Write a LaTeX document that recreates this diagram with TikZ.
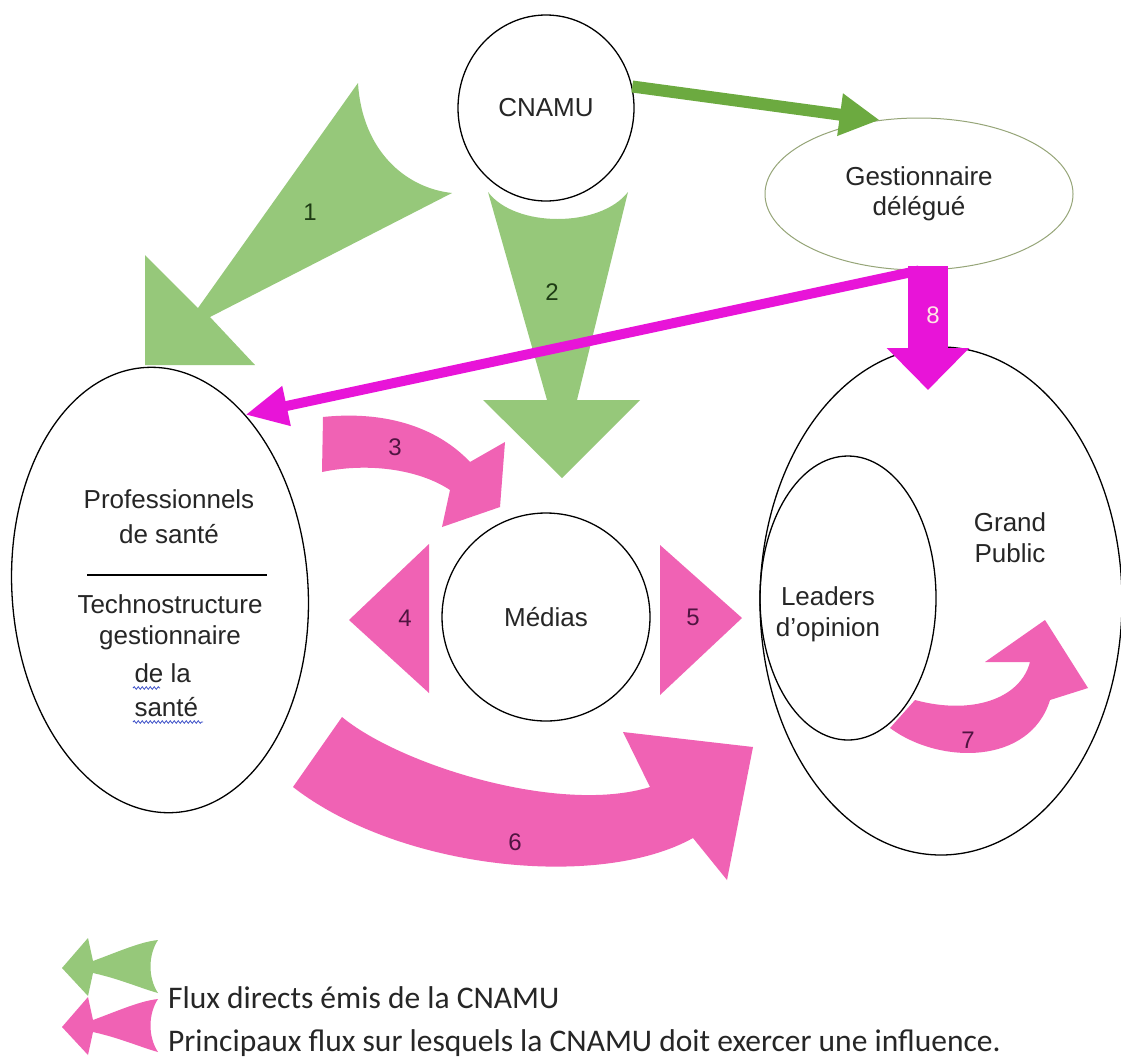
\documentclass[tikz,border=0pt]{standalone}
\usepackage{fontspec}
\setmainfont{Liberation Sans}
\newfontfamily\legendfont{Carlito}
\usetikzlibrary{shapes.geometric,arrows.meta,decorations.pathmorphing}
\definecolor{lgreen}{RGB}{150,200,122}
\definecolor{dgreen}{RGB}{108,170,64}
\definecolor{gestc}{RGB}{150,165,120}
\definecolor{mag}{RGB}{232,20,216}
\definecolor{pinkA}{RGB}{240,98,180}
\definecolor{numg}{RGB}{30,60,20}
\definecolor{nump}{RGB}{80,20,65}
\definecolor{spell}{RGB}{60,80,200}
\begin{document}
\begin{tikzpicture}[x=1pt,y=-1pt,
  ent/.style={draw=black, line width=1.3pt, ellipse, inner sep=0pt},
  lbl/.style={font=\fontsize{26}{31}\selectfont, text=black!85, align=center},
  num/.style={font=\fontsize{24}{28}\selectfont},
  legtxt/.style={font=\legendfont\fontsize{31.5}{36}\selectfont, text=black!85, anchor=west, inner sep=0pt}]
\fill[white] (0,0) rectangle (1121,1058);
\useasboundingbox (0,0) rectangle (1121,1058);

% entities
\node[ent, minimum width=176pt, minimum height=186pt, lbl] (cnamu) at (546,108) {CNAMU};
\node[ent, draw=gestc, line width=1pt, minimum width=308pt, minimum height=152pt, lbl, font=\fontsize{26}{30}\selectfont] (gest) at (919,194) {Gestionnaire\\délégué};
\node[ent, minimum width=296pt, minimum height=446pt, rotate=4] (pro) at (160,590) {};
\node[ent, circle, minimum size=208pt, lbl] (medias) at (546,617) {Médias};
\node[ent, minimum width=362pt, minimum height=508pt] (big) at (941,601) {};
\node[ent, minimum width=176pt, minimum height=284pt] (lead) at (848,598) {};

% texts
\node[lbl, font=\fontsize{26}{35}\selectfont] (protxt) at (169,517) {Professionnels\\de santé};
\draw[line width=1.3pt] (87,575) -- (267,575);
\node[lbl] (tech) at (170,622) {Technostructure\\gestionnaire};
\node[lbl, align=left, anchor=west, font=\fontsize{26}{34}\selectfont] (dela) at (131,690) {de la\\santé};
\draw[spell, line width=0.8pt, decorate, decoration={snake, amplitude=1.3pt, segment length=4pt}] (133,688) -- (160,688);
\draw[spell, line width=0.8pt, decorate, decoration={snake, amplitude=1.3pt, segment length=4pt}] (133,722) -- (203,722);
\node[lbl] (leadtxt) at (828,614) {Leaders\\d’opinion};
\node[lbl] (gptxt) at (1010,538) {Grand\\Public};

% arrow 1
\fill[lgreen] (358,83) .. controls (362,150) and (405,188) .. (452,193) -- (210,317) -- (255,365) -- (145,365) -- (145,255) -- (198,308) -- cycle;
\node[num, text=numg] (n1) at (310,212) {1};
% arrow 2
\fill[lgreen] (488,192) .. controls (515,228) and (600,228) .. (628,192) -- (577,400) -- (640,400) -- (562,478) -- (483,400) -- (547,400) -- cycle;
\node[num, text=numg] (n2) at (552,292) {2};
% CNAMU -> Gestionnaire
\draw[dgreen, line width=12pt, -{Triangle[length=40pt,width=40pt]}] (cnamu.14) -- (gest.118);

% magenta line to Professionnels
\draw[mag, line width=10pt, -{Triangle[length=42pt,width=38pt]}] (gest.south) -- (pro.60);
% arrow 8
\coordinate (a8s) at (928,266);
\coordinate (a8e) at (928,390);
\draw[mag, line width=40pt, -{Triangle[length=42pt,width=80pt]}] (a8s) -- (a8e);
\node[num, text=pink!40] (n8) at (933,315) {8};

% arrow 3
\fill[pinkA] (323,417) .. controls (390,410) and (440,430) .. (470,462) -- (505,442) -- (500,507) -- (442,527) -- (450,490) .. controls (420,470) and (370,462) .. (322,472) -- cycle;
\node[num, text=nump] (n3) at (395,447) {3};
% arrow 4
\fill[pinkA] (429,544) -- (429,693) -- (349,620) -- cycle;
\node[num, text=nump] (n4) at (405,618) {4};
% arrow 5
\fill[pinkA] (660,545) -- (660,695) -- (742,618) -- cycle;
\node[num, text=nump] (n5) at (693,617) {5};
% arrow 6
\fill[pinkA] (342,717) .. controls (400,765) and (560,815) .. (650,787) -- (623,732) -- (753,747) -- (727,880) -- (693,838) .. controls (600,890) and (400,870) .. (293,787) -- cycle;
\node[num, text=nump] (n6) at (515,842) {6};
% arrow 7
\fill[pinkA] (890,728) .. controls (940,765) and (1030,765) .. (1050,700) -- (1088,688) -- (1045,620) -- (985,662) -- (1030,662) .. controls (1020,700) and (970,715) .. (915,700) -- cycle;
\node[num, text=nump] (n7) at (968,740) {7};

% legend
\fill[lgreen] (62,968) -- (88,938) -- (93,961) .. controls (120,951) and (140,942) .. (158,940) .. controls (148,955) and (148,978) .. (158,993) .. controls (140,988) and (120,979) .. (93,973) -- (88,996) -- cycle;
\node[legtxt] (leg1) at (168,998) {Flux directs émis de la CNAMU};
\fill[pinkA] (62,1027) -- (88,997) -- (93,1020) .. controls (120,1010) and (140,1001) .. (158,999) .. controls (148,1014) and (148,1037) .. (158,1052) .. controls (140,1047) and (120,1038) .. (93,1032) -- (88,1055) -- cycle;
\node[legtxt] (leg2) at (168,1043) {Principaux flux sur lesquels la CNAMU doit exercer une influence.};
\end{tikzpicture}
\end{document}
